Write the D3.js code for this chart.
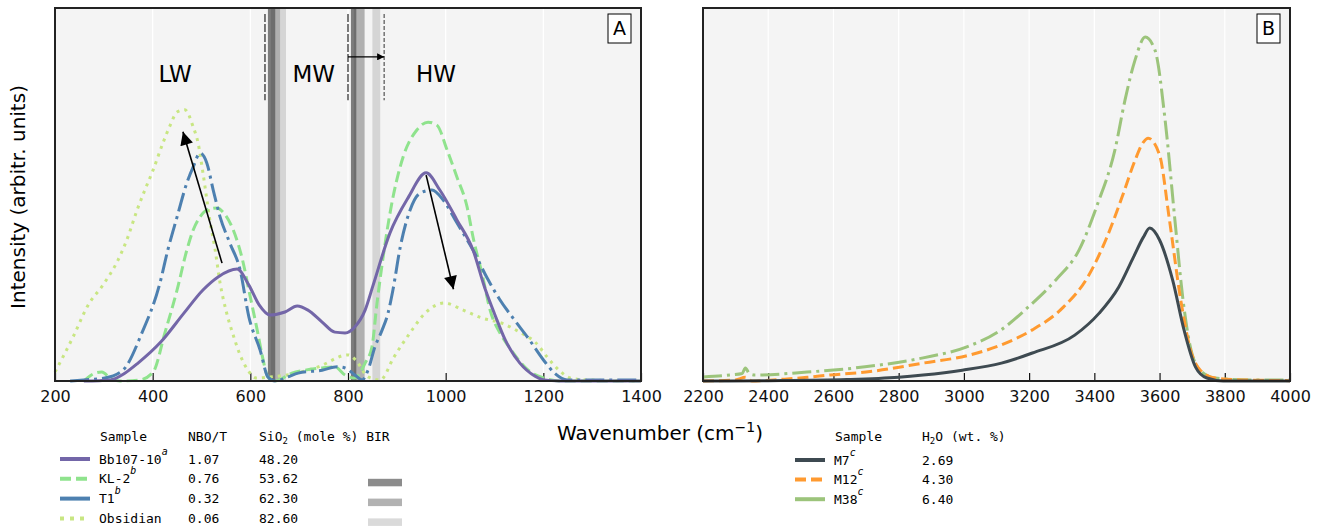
<!DOCTYPE html>
<html>
<head>
<meta charset="utf-8">
<script src="https://cdn.jsdelivr.net/npm/d3@7"></script>
<style>
  body { margin: 0; background: #fff; }
  text { font-family: "DejaVu Sans", sans-serif; }
  .mono { font-family: "DejaVu Sans Mono", monospace; font-size: 13px; }
</style>
</head>
<body>
<div id="chart"></div>
<script>
// ---- panel A : silicate region ----
var bbWave = [259, 313, 343, 370, 417, 464, 503, 534, 573, 597, 618, 640, 671, 696, 718, 747, 773, 794, 814, 835, 851, 886, 923, 960, 988, 1023, 1056, 1080, 1101, 1122, 1152, 1183, 1201, 1234, 1400];
var bbInt = [0, 0.3, 2.1, 4.8, 10.5, 18.2, 24.4, 27.9, 30.0, 25.7, 20.4, 17.7, 18.5, 20.1, 19.0, 15.8, 13.1, 12.9, 14.5, 19.0, 25.5, 39.7, 49.1, 55.8, 51.2, 43.2, 35.1, 25.0, 17.7, 11.0, 4.8, 1.3, 0.3, 0, 0];

var klWave = [259, 282, 296, 313, 333, 374, 401, 425, 450, 470, 483, 497, 511, 532, 544, 565, 583, 599, 614, 624, 636, 651, 685, 712, 747, 773, 794, 814, 835, 849, 859, 874, 886, 913, 941, 964, 982, 1003, 1023, 1044, 1056, 1076, 1091, 1111, 1130, 1169, 1201, 1234, 1400];
var klInt = [0, 2.1, 2.4, 0.8, 0, 0.3, 2.4, 12.9, 24.4, 35.1, 40.5, 44.0, 45.8, 46.4, 45.3, 40.5, 33.0, 23.1, 13.7, 7.0, 1.1, 0, 2.1, 2.9, 3.5, 3.8, 1.6, 0.8, 4.8, 9.1, 20.4, 35.1, 45.0, 60.1, 67.3, 69.4, 68.6, 61.9, 54.7, 46.6, 38.6, 27.9, 19.0, 12.9, 9.1, 2.9, 0.8, 0, 0];

var t1Wave = [231, 259, 302, 339, 378, 415, 431, 450, 470, 483, 497, 511, 524, 538, 558, 579, 597, 620, 636, 651, 677, 698, 747, 778, 794, 814, 829, 841, 855, 870, 882, 892, 907, 927, 948, 972, 995, 1023, 1056, 1085, 1110, 1140, 1169, 1201, 1224, 1249, 1400];
var t1Int = [0, 0.3, 0.8, 2.9, 12.9, 26.3, 35.1, 44.0, 53.1, 57.4, 61.1, 58.4, 51.2, 44.0, 37.0, 29.8, 17.2, 8.3, 1.1, 0, 1.1, 2.1, 2.9, 3.8, 3.5, 1.6, 0.3, 2.9, 9.1, 13.7, 18.2, 24.4, 35.9, 45.8, 50.4, 51.2, 48.5, 42.4, 35.1, 27.6, 22.0, 16.5, 11.5, 5.5, 2.0, 0.3, 0.3];

var obsWave = [200, 237, 268, 298, 329, 347, 368, 384, 401, 421, 436, 450, 466, 483, 493, 503, 517, 528, 538, 550, 565, 579, 595, 612, 640, 675, 739, 800, 816, 841, 866, 894, 927, 958, 997, 1036, 1074, 1115, 1154, 1185, 1208, 1232, 1255, 1287, 1400];
var obsInt = [2.4, 11.8, 20.4, 25.7, 32.4, 37.8, 45.8, 51.2, 56.6, 63.8, 68.6, 72.1, 72.7, 68.1, 63.8, 55.8, 43.2, 35.1, 26.3, 19.0, 12.3, 7.0, 2.9, 0.8, 1.1, 1.6, 3.8, 7.0, 5.6, 1.1, 0.3, 6.4, 12.9, 18.2, 20.9, 19.0, 16.9, 15.5, 12.9, 10.2, 6.4, 2.9, 0.8, 0.3, 0];

// BIR bands (start, end wavenumber)
var birKL2 = [[636, 651], [806, 817]];
var birT1 = [[642, 661], [812, 834]];
var birObs = [[661, 673], [850, 866]];

// ---- panel B : water region ----
var m7Wave = [2200, 2400, 2640, 2800, 2875, 2995, 3115, 3210, 3340, 3415, 3475, 3520, 3550, 3570, 3600, 3640, 3675, 3710, 3745, 3795, 4000];
var m7Int = [0, 0.1, 0.4, 1.0, 1.6, 2.9, 4.8, 7.5, 12.3, 18.2, 25.2, 33.2, 38.5, 41.0, 37.8, 27.1, 13.7, 3.8, 0.8, 0, 0];

var m12Wave = [2200, 2300, 2330, 2350, 2450, 2520, 2590, 2700, 2875, 3020, 3115, 3210, 3305, 3380, 3435, 3485, 3525, 3550, 3565, 3600, 3630, 3665, 3695, 3725, 3770, 3850, 4000];
var m12Int = [0, 0.3, 1.0, 0, 0.5, 1.0, 1.6, 2.4, 4.8, 7.0, 9.7, 13.7, 19.8, 27.9, 37.8, 49.3, 59.2, 64.0, 65.1, 60.6, 43.4, 21.7, 8.3, 2.9, 0.8, 0.3, 0.1];

var m38Wave = [2200, 2283, 2320, 2330, 2342, 2360, 2519, 2697, 2875, 3007, 3114, 3197, 3282, 3353, 3411, 3463, 3494, 3525, 3556, 3586, 3617, 3647, 3672, 3693, 3724, 3770, 3877, 4000];
var m38Int = [1.1, 1.6, 2.0, 3.5, 2.0, 1.6, 2.4, 3.8, 6.2, 9.1, 13.7, 19.8, 27.1, 35.1, 47.7, 61.9, 75.3, 86.1, 92.2, 88.7, 70.0, 43.2, 21.7, 9.7, 2.9, 0.8, 0.3, 0.3];

var ticksA = [200, 400, 600, 800, 1000, 1200, 1400];
var ticksB = [2200, 2400, 2600, 2800, 3000, 3200, 3400, 3600, 3800, 4000];

var legendA = [
  { name: "Bb107-10", sup: "a", nbo: "1.07", sio2: "48.20" },
  { name: "KL-2", sup: "b", nbo: "0.76", sio2: "53.62" },
  { name: "T1", sup: "b", nbo: "0.32", sio2: "62.30" },
  { name: "Obsidian", sup: "", nbo: "0.06", sio2: "82.60" }
];
var legendB = [
  { name: "M7", sup: "c", h2o: "2.69" },
  { name: "M12", sup: "c", h2o: "4.30" },
  { name: "M38", sup: "c", h2o: "6.40" }
];

var styles = {
  "Bb107-10": { color: "#7366a8", dash: null },
  "KL-2": { color: "#8fe38d", dash: "11,5" },
  "T1": { color: "#4d80b0", dash: "19,5,3,5" },
  "Obsidian": { color: "#c8e682", dash: "3,5" },
  "M7": { color: "#3e4a51", dash: null },
  "M12": { color: "#ff9a30", dash: "11,5" },
  "M38": { color: "#9cc47b", dash: "19,5,3,5" }
};

function zip(a, b) { return a.map(function (d, i) { return [d, b[i]]; }); }

var width = 1325, height = 528;
var plotTop = 8, plotBottom = 381;

var svg = d3.select("#chart").append("svg")
  .attr("width", width)
  .attr("height", height);

var defs = svg.append("defs");
defs.append("marker").attr("id", "head").attr("markerUnits", "userSpaceOnUse")
  .attr("viewBox", "0 0 10 10").attr("refX", 10).attr("refY", 5)
  .attr("markerWidth", 15).attr("markerHeight", 13).attr("orient", "auto")
  .append("path").attr("d", "M0,0 L10,5 L0,10 z").attr("fill", "black");
defs.append("marker").attr("id", "small").attr("markerUnits", "userSpaceOnUse")
  .attr("viewBox", "0 0 10 10").attr("refX", 10).attr("refY", 5)
  .attr("markerWidth", 7).attr("markerHeight", 7).attr("orient", "auto")
  .append("path").attr("d", "M0,0 L10,5 L0,10 z").attr("fill", "black");

var y = d3.scaleLinear().domain([0, 100]).range([plotBottom, plotTop]);
var xA = d3.scaleLinear().domain([200, 1400]).range([55, 641]);
var xB = d3.scaleLinear().domain([2200, 4000]).range([703, 1290]);

function panel(x, ticks, label) {
  var g = svg.append("g");
  var x0 = x.range()[0], x1 = x.range()[1];
  g.append("rect")
    .attr("x", x0).attr("y", plotTop)
    .attr("width", x1 - x0).attr("height", plotBottom - plotTop)
    .attr("fill", "#f4f4f4");
  g.selectAll(".grid")
    .data(ticks)
    .enter()
    .append("line")
    .attr("x1", function (d) { return x(d); })
    .attr("x2", function (d) { return x(d); })
    .attr("y1", plotTop).attr("y2", plotBottom)
    .attr("stroke", "#ffffff")
    .attr("stroke-width", 1.2);
  var ax = g.append("g")
    .attr("transform", "translate(0," + plotBottom + ")")
    .call(d3.axisBottom(x).tickValues(ticks).tickSize(-8).tickPadding(10).tickFormat(d3.format("d")));
  ax.select(".domain").remove();
  ax.selectAll(".tick line").attr("stroke", "#111").attr("stroke-width", 1.2);
  ax.selectAll("text").attr("font-size", 16).attr("fill", "#111")
    .attr("font-family", "DejaVu Sans, sans-serif");
  var plot = svg.append("g");
  return { g: g, plot: plot, x0: x0, x1: x1, label: label };
}

function finish(p) {
  svg.append("rect")
    .attr("x", p.x0).attr("y", plotTop)
    .attr("width", p.x1 - p.x0).attr("height", plotBottom - plotTop)
    .attr("fill", "none").attr("stroke", "#222").attr("stroke-width", 2);
  svg.append("rect")
    .attr("x", p.x1 - 33).attr("y", 14)
    .attr("width", 23).attr("height", 29)
    .attr("fill", "white").attr("stroke", "black").attr("stroke-width", 1);
  svg.append("text")
    .attr("x", p.x1 - 21.5).attr("y", 35)
    .attr("text-anchor", "middle")
    .attr("font-size", 19)
    .text(p.label);
}

var pA = panel(xA, ticksA, "A");
var pB = panel(xB, ticksB, "B");

// BIR bands
function bands(list, color, op) {
  pA.plot.selectAll(null)
    .data(list)
    .enter()
    .append("rect")
    .attr("x", function (d) { return xA(d[0]); })
    .attr("width", function (d) { return xA(d[1]) - xA(d[0]); })
    .attr("y", plotTop).attr("height", plotBottom - plotTop)
    .attr("fill", color)
    .attr("fill-opacity", op);
}
bands(birObs, "#cfcfcf", 0.85);
bands(birT1, "#9a9a9a", 0.75);
bands(birKL2, "#5e5e5e", 0.8);

var lineA = d3.line()
  .x(function (d) { return xA(d[0]); })
  .y(function (d) { return y(d[1]); })
  .curve(d3.curveMonotoneX);
var lineB = d3.line()
  .x(function (d) { return xB(d[0]); })
  .y(function (d) { return y(d[1]); })
  .curve(d3.curveMonotoneX);

var seriesA = [
  { name: "Obsidian", data: zip(obsWave, obsInt) },
  { name: "KL-2", data: zip(klWave, klInt) },
  { name: "T1", data: zip(t1Wave, t1Int) },
  { name: "Bb107-10", data: zip(bbWave, bbInt) }
];
pA.plot.selectAll(".curve")
  .data(seriesA)
  .enter()
  .append("path")
  .attr("class", "curve")
  .attr("d", function (d) { return lineA(d.data); })
  .attr("fill", "none")
  .attr("stroke", function (d) { return styles[d.name].color; })
  .attr("stroke-width", 3)
  .attr("stroke-dasharray", function (d) { return styles[d.name].dash; });

var seriesB = [
  { name: "M38", data: zip(m38Wave, m38Int) },
  { name: "M12", data: zip(m12Wave, m12Int) },
  { name: "M7", data: zip(m7Wave, m7Int) }
];
pB.plot.selectAll(".curve")
  .data(seriesB)
  .enter()
  .append("path")
  .attr("class", "curve")
  .attr("d", function (d) { return lineB(d.data); })
  .attr("fill", "none")
  .attr("stroke", function (d) { return styles[d.name].color; })
  .attr("stroke-width", 3)
  .attr("stroke-dasharray", function (d) { return styles[d.name].dash; });

// annotations panel A
[630, 800, 874].forEach(function (w, i) {
  pA.plot.append("line")
    .attr("x1", xA(w)).attr("x2", xA(w))
    .attr("y1", y(98.4)).attr("y2", y(75.3))
    .attr("stroke", i == 2 ? "#444" : "#111")
    .attr("stroke-width", 1.1)
    .attr("stroke-dasharray", i == 2 ? "4,2" : "8,2");
});
pA.plot.append("line")
  .attr("x1", xA(800)).attr("x2", xA(874))
  .attr("y1", y(86.9)).attr("y2", y(86.9))
  .attr("stroke", "black").attr("stroke-width", 1.2)
  .attr("marker-end", "url(#small)");

pA.plot.selectAll(".region")
  .data([["LW", 446], ["MW", 730], ["HW", 980]])
  .enter()
  .append("text")
  .attr("x", function (d) { return xA(d[1]); })
  .attr("y", y(80.2))
  .attr("text-anchor", "middle")
  .attr("font-size", 23)
  .text(function (d) { return d[0]; });

pA.plot.append("line")
  .attr("x1", xA(542)).attr("y1", y(31.6))
  .attr("x2", xA(462)).attr("y2", y(66.8))
  .attr("stroke", "black").attr("stroke-width", 1.6)
  .attr("marker-end", "url(#head)");
pA.plot.append("line")
  .attr("x1", xA(960)).attr("y1", y(55.2))
  .attr("x2", xA(1016)).attr("y2", y(24.6))
  .attr("stroke", "black").attr("stroke-width", 1.6)
  .attr("marker-end", "url(#head)");

finish(pA);
finish(pB);

// axis titles
svg.append("text")
  .attr("transform", "translate(25,197) rotate(-90)")
  .attr("text-anchor", "middle")
  .attr("font-size", 20)
  .text("Intensity (arbitr. units)");
var xt = svg.append("text")
  .attr("x", 660).attr("y", 440)
  .attr("text-anchor", "middle")
  .attr("font-size", 20);
xt.append("tspan").text("Wavenumber (cm");
xt.append("tspan").attr("font-size", 14).attr("dy", -8).text("\u22121");
xt.append("tspan").attr("dy", 8).text(")");

// legend A
var legA = svg.append("g");
legA.append("text").attr("class", "mono").attr("x", 100).attr("y", 441).text("Sample");
legA.append("text").attr("class", "mono").attr("x", 188).attr("y", 441).text("NBO/T");
var sh = legA.append("text").attr("class", "mono").attr("x", 259).attr("y", 441);
sh.append("tspan").text("SiO");
sh.append("tspan").attr("font-size", 9).attr("dy", 3).text("2");
sh.append("tspan").attr("dy", -3).text(" (mole %) BIR");

var birColors = [null, "#8c8c8c", "#b2b2b2", "#dadada"];
var legDash = { "Bb107-10": null, "KL-2": "11,5", "T1": null, "Obsidian": "4,6" };
legendA.forEach(function (d, i) {
  var cy = 459 + i * 19.8;
  legA.append("line")
    .attr("x1", 60).attr("x2", 90)
    .attr("y1", cy).attr("y2", cy)
    .attr("stroke", styles[d.name].color)
    .attr("stroke-width", 4)
    .attr("stroke-dasharray", legDash[d.name]);
  var t = legA.append("text").attr("class", "mono").attr("x", 99).attr("y", cy + 4.5);
  t.append("tspan").text(d.name);
  if (d.sup) t.append("tspan").attr("font-size", 10).attr("font-style", "italic").attr("dy", -9).text(d.sup);
  legA.append("text").attr("class", "mono").attr("x", 188).attr("y", cy + 4.5).text(d.nbo);
  legA.append("text").attr("class", "mono").attr("x", 259).attr("y", cy + 4.5).text(d.sio2);
  if (birColors[i]) {
    legA.append("rect")
      .attr("x", 368).attr("y", cy).attr("width", 34).attr("height", 7.5)
      .attr("fill", birColors[i]);
  }
});

// legend B
var legB = svg.append("g");
legB.append("text").attr("class", "mono").attr("x", 835).attr("y", 441).text("Sample");
var hh = legB.append("text").attr("class", "mono").attr("x", 922).attr("y", 441);
hh.append("tspan").text("H");
hh.append("tspan").attr("font-size", 9).attr("dy", 3).text("2");
hh.append("tspan").attr("dy", -3).text("O (wt. %)");
legendB.forEach(function (d, i) {
  var cy = 460 + i * 19.6;
  legB.append("line")
    .attr("x1", 795).attr("x2", 825)
    .attr("y1", cy).attr("y2", cy)
    .attr("stroke", styles[d.name].color)
    .attr("stroke-width", 4)
    .attr("stroke-dasharray", d.name == "M12" ? "11,5" : null);
  var t = legB.append("text").attr("class", "mono").attr("x", 834).attr("y", cy + 4.5);
  t.append("tspan").text(d.name);
  t.append("tspan").attr("font-size", 10).attr("font-style", "italic").attr("dy", -9).text(d.sup);
  legB.append("text").attr("class", "mono").attr("x", 922).attr("y", cy + 4.5).text(d.h2o);
});
</script>
</body>
</html>
